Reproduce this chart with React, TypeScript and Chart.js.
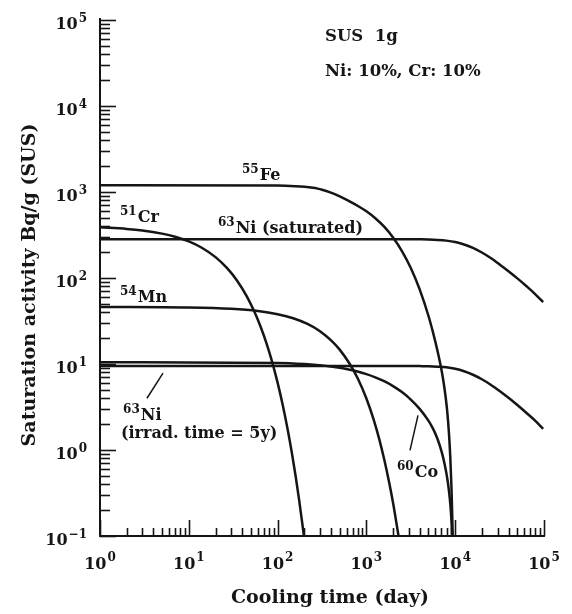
import React, { useEffect, useRef } from "react";
import { Chart, registerables } from "chart.js";

Chart.register(...registerables);

// ---- Data (cooling time in days, activity in Bq/g) ----
const feDays = [1, 100, 158, 200, 251, 282, 316, 398, 501, 631, 794, 1000, 1259, 1585, 1995, 2512, 3162, 3981, 5012, 5623, 6310, 7079, 7586, 8128, 8511, 8810, 9078, 9290, 9376];
const feAct = [1200, 1188, 1170, 1152, 1120, 1095, 1064, 982, 889, 788, 692, 596, 495, 395, 296, 206, 131, 73.7, 35.9, 23.3, 14.3, 8.09, 5.16, 2.83, 1.55, 0.81, 0.364, 0.148, 0.1];

const crDays = [1, 2, 3, 5, 7, 10, 14, 20, 27, 35, 45, 55, 65, 75, 85, 100, 115, 130, 145, 160, 175, 190, 198];
const crAct = [388, 372, 357, 328, 302, 266, 225, 175, 130, 93.1, 61.2, 40.2, 26.4, 17.4, 11.4, 6.07, 3.23, 1.72, 0.916, 0.489, 0.26, 0.138, 0.1];

const niSatDays = [1, 3162, 3981, 5012, 6310, 7943, 10000, 12589, 15849, 19953, 25119, 31623, 39811, 50119, 63096, 79433, 97724];
const niSatAct = [283, 282.4, 281.6, 280.2, 277.3, 272, 262, 245, 224, 198, 171, 144, 120, 99, 80.7, 65.1, 52.4];

const mnDays = [1, 10, 30, 60, 100, 150, 220, 300, 400, 500, 650, 800, 1000, 1200, 1400, 1600, 1800, 2000, 2200, 2300];
const mnAct = [46.1, 45.4, 43.8, 41.3, 37.9, 34.0, 29.0, 24.0, 18.8, 14.7, 10.0, 6.77, 3.97, 2.3, 1.32, 0.748, 0.424, 0.24, 0.133, 0.1];

const coDays = [1, 100, 200, 316, 398, 501, 631, 794, 1000, 1259, 1585, 1995, 2512, 3162, 3981, 5012, 5623, 6310, 7079, 7586, 8128, 8511, 8810, 9078, 9247];
const coAct = [10.5, 10.29, 9.99, 9.64, 9.36, 9.04, 8.64, 8.18, 7.62, 7.0, 6.31, 5.54, 4.72, 3.86, 3.01, 2.18, 1.77, 1.35, 0.933, 0.692, 0.473, 0.333, 0.235, 0.15, 0.1];

const ni5Days = [1, 3162, 3981, 5012, 6310, 7943, 10000, 12589, 15849, 19953, 25119, 31623, 39811, 50119, 63096, 79433, 97724];
const ni5Act = [9.5, 9.48, 9.45, 9.41, 9.31, 9.14, 8.79, 8.23, 7.5, 6.65, 5.75, 4.85, 4.04, 3.33, 2.71, 2.19, 1.76];

// ---- Axis ticks ----
const xMajorTicks = [1, 10, 100, 1000, 10000, 100000];
const xTickExponents = ["0", "1", "2", "3", "4", "5"];
const yMajorTicks = [0.1, 1, 10, 100, 1000, 10000, 100000];
const yTickExponents = ["\u22121", "0", "1", "2", "3", "4", "5"];
const minorMultipliers = [2, 3, 4, 5, 6, 7, 8, 9];

// ---- Text ----
const xTitle = "Cooling time (day)";
const yTitle = "Saturation activity Bq/g (SUS)";
const infoLines = ["SUS  1g", "Ni: 10%, Cr: 10%"];

// Curve labels: superscript, main text, anchor (day, activity) = left/baseline
const curveLabels = [
  { sup: "55", text: "Fe", x: 39.7, y: 1375 },
  { sup: "51", text: "Cr", x: 1.68, y: 447 },
  { sup: "63", text: "Ni (saturated)", x: 21.3, y: 333 },
  { sup: "54", text: "Mn", x: 1.68, y: 52.4 },
  { sup: "63", text: "Ni", x: 1.82, y: 2.22 },
  { sup: "", text: "(irrad. time = 5y)", x: 1.72, y: 1.37 },
  { sup: "60", text: "Co", x: 2211, y: 0.482 },
];
const leaderLines = [
  { x1: 3.38, y1: 4.0, x2: 5.12, y2: 7.82 },
  { x1: 3098, y1: 0.99, x2: 3811, y2: 2.53 },
];
const infoAnchor = { x: 342, y: [63400, 24800] };

const FONT = '"DejaVu Serif", "Liberation Serif", serif';
const INK = "#151515";

function series(days: number[], act: number[]) {
  return days.map((d, i) => ({ x: d, y: act[i] }));
}

const axesPlugin = {
  id: "customAxes",
  afterDraw(chart: any) {
    const { ctx, chartArea: ca, scales } = chart;
    const xs = scales.x;
    const ys = scales.y;
    ctx.save();
    ctx.strokeStyle = INK;
    ctx.fillStyle = INK;

    // axis lines
    ctx.lineWidth = 2;
    ctx.beginPath();
    ctx.moveTo(ca.left, ca.top - 2);
    ctx.lineTo(ca.left, ca.bottom);
    ctx.lineTo(ca.right + 1, ca.bottom);
    ctx.stroke();

    // y ticks (inward)
    ctx.lineWidth = 1.6;
    yMajorTicks.forEach((v, i) => {
      const py = Math.round(ys.getPixelForValue(v)) + 0.5;
      ctx.beginPath();
      ctx.moveTo(ca.left, py);
      ctx.lineTo(ca.left + 16, py);
      ctx.stroke();
      if (i < yMajorTicks.length - 1) {
        minorMultipliers.forEach((m) => {
          const p = Math.round(ys.getPixelForValue(v * m)) + 0.5;
          ctx.beginPath();
          ctx.moveTo(ca.left, p);
          ctx.lineTo(ca.left + 10, p);
          ctx.stroke();
        });
      }
    });
    // x ticks (inward)
    xMajorTicks.forEach((v, i) => {
      const px = Math.round(xs.getPixelForValue(v)) + 0.5;
      ctx.beginPath();
      ctx.moveTo(px, ca.bottom);
      ctx.lineTo(px, ca.bottom - 16);
      ctx.stroke();
      if (i < xMajorTicks.length - 1) {
        minorMultipliers.forEach((m) => {
          const p = Math.round(xs.getPixelForValue(v * m)) + 0.5;
          ctx.beginPath();
          ctx.moveTo(p, ca.bottom);
          ctx.lineTo(p, ca.bottom - 8);
          ctx.stroke();
        });
      }
    });

    const mainFont = `bold 16px ${FONT}`;
    const supFont = `bold 12px ${FONT}`;
    ctx.textBaseline = "alphabetic";
    ctx.textAlign = "left";

    // y tick labels
    yMajorTicks.forEach((v, i) => {
      const py = ys.getPixelForValue(v);
      ctx.font = supFont;
      const we = ctx.measureText(yTickExponents[i]).width;
      ctx.font = mainFont;
      const wb = ctx.measureText("10").width;
      const right = ca.left - 13;
      ctx.fillText("10", right - we - wb - 1, py + 9);
      ctx.font = supFont;
      ctx.fillText(yTickExponents[i], right - we, py + 2);
    });
    // x tick labels
    xMajorTicks.forEach((v, i) => {
      const px = xs.getPixelForValue(v);
      ctx.font = supFont;
      const we = ctx.measureText(xTickExponents[i]).width;
      ctx.font = mainFont;
      const wb = ctx.measureText("10").width;
      const left = px - (wb + we + 1) / 2;
      ctx.fillText("10", left, ca.bottom + 33);
      ctx.font = supFont;
      ctx.fillText(xTickExponents[i], left + wb + 1, ca.bottom + 25);
    });

    // axis titles
    ctx.font = `bold 19px ${FONT}`;
    ctx.textAlign = "center";
    ctx.textBaseline = "middle";
    ctx.fillText(xTitle, (ca.left + ca.right) / 2 + 8, ca.bottom + 62);
    ctx.save();
    ctx.translate(30, (ca.top + ca.bottom) / 2 + 7);
    ctx.rotate(-Math.PI / 2);
    ctx.fillText(yTitle, 0, 0);
    ctx.restore();

    // info text
    ctx.font = `bold 16.5px ${FONT}`;
    ctx.textAlign = "left";
    ctx.textBaseline = "middle";
    infoLines.forEach((t, i) => {
      ctx.fillText(t, xs.getPixelForValue(infoAnchor.x), ys.getPixelForValue(infoAnchor.y[i]));
    });

    // curve labels
    ctx.textBaseline = "alphabetic";
    curveLabels.forEach((l) => {
      const px = xs.getPixelForValue(l.x);
      const py = ys.getPixelForValue(l.y);
      let cx = px;
      if (l.sup) {
        ctx.font = `bold 12px ${FONT}`;
        ctx.fillText(l.sup, cx, py - 7);
        cx += ctx.measureText(l.sup).width + 1;
      }
      ctx.font = `bold 16px ${FONT}`;
      ctx.fillText(l.text, cx, py);
    });

    // leader lines
    ctx.lineWidth = 1.5;
    leaderLines.forEach((ln) => {
      ctx.beginPath();
      ctx.moveTo(xs.getPixelForValue(ln.x1), ys.getPixelForValue(ln.y1));
      ctx.lineTo(xs.getPixelForValue(ln.x2), ys.getPixelForValue(ln.y2));
      ctx.stroke();
    });

    ctx.restore();
  },
};

export default function App() {
  const canvasRef = useRef<HTMLCanvasElement | null>(null);

  useEffect(() => {
    if (!canvasRef.current) return;
    const lineStyle = {
      borderColor: INK,
      borderWidth: 2.5,
      pointRadius: 0,
      fill: false,
      cubicInterpolationMode: "monotone" as const,
    };
    const chart = new Chart(canvasRef.current, {
      type: "line",
      data: {
        datasets: [
          { label: "55Fe", data: series(feDays, feAct), ...lineStyle },
          { label: "51Cr", data: series(crDays, crAct), ...lineStyle },
          { label: "63Ni (saturated)", data: series(niSatDays, niSatAct), ...lineStyle },
          { label: "54Mn", data: series(mnDays, mnAct), ...lineStyle },
          { label: "60Co", data: series(coDays, coAct), ...lineStyle },
          { label: "63Ni (irrad. time = 5y)", data: series(ni5Days, ni5Act), ...lineStyle },
        ],
      },
      options: {
        animation: false,
        responsive: false,
        devicePixelRatio: 1,
        parsing: false as any,
        layout: { padding: { left: 100, right: 28, top: 20, bottom: 78 } },
        plugins: { legend: { display: false }, tooltip: { enabled: false } },
        scales: {
          x: { type: "logarithmic", min: 1, max: 100000, display: false },
          y: { type: "logarithmic", min: 0.1, max: 100000, display: false },
        },
      },
      plugins: [axesPlugin],
    });
    return () => chart.destroy();
  }, []);

  return (
    <div style={{ position: "absolute", left: 0, top: 0, width: 572, height: 614, background: "#fff" }}>
      <canvas ref={canvasRef} width={572} height={614} style={{ width: 572, height: 614 }} />
    </div>
  );
}
